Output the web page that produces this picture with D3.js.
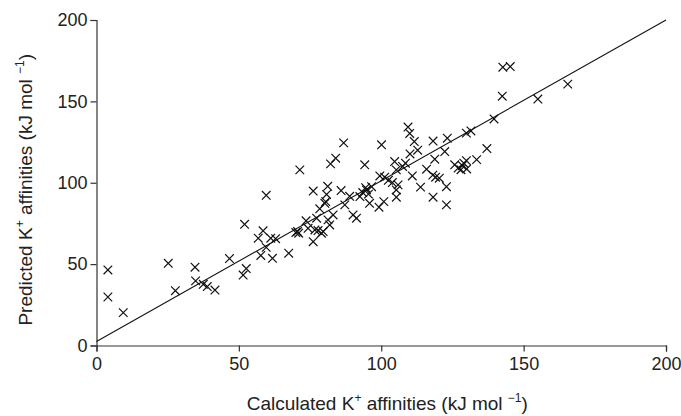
<!DOCTYPE html>
<html>
<head>
<meta charset="utf-8">
<script src="https://cdn.jsdelivr.net/npm/d3@7"></script>
<style>
  body { margin: 0; background: #fff; }
  svg text { font-family: "Liberation Sans", Arial, sans-serif; fill: #222; }
</style>
</head>
<body>
<svg id="chart"></svg>
<script>
// calculated vs predicted K+ affinities
const calculated = [
  4, 4, 9.4, 25.2, 27.7, 34.6, 34.8, 37.5, 38.9, 41.6, 46.7, 51.5, 52.6, 52,
  56.8, 58.5, 57.7, 59.6, 59.6, 61.2, 62.9, 61.8, 67.5,
  70, 70.6, 71, 71.4, 73.6, 74.3, 76.7, 76.1, 77.8, 79.6, 76.1, 77.3, 78.4, 80.2, 80.5, 80.8, 81.2, 81.3, 81.9, 79, 82.2, 84, 86.8, 83.1,
  85.9, 87.2, 88.9, 90.1, 91.3, 92.5, 93.5, 94.5, 94.8, 95.5, 96.6, 95.9, 94.2, 99.2, 100.9, 99.5, 101.2, 100.1, 103.9, 105.9, 105.3, 105.3, 104.7, 105.3, 102.5,
  109.4, 110, 111.6, 112.8, 110.1, 110.9, 113.8, 115.9, 118.1, 118.2, 118.2, 118.8, 119.1, 120.4, 122.3, 122.9, 122.9, 123.2, 107.5, 108.5,
  125.8, 127, 128, 128.5, 129, 130, 129.9, 129.9, 131.5, 133.5, 137.1, 139.6,
  142.5, 142.7, 145.3, 155, 165.5
];
const predicted = [
  46.4, 29.8, 20.2, 50.5, 33.7, 48.1, 39.7, 37.6, 36.2, 34.1, 53.4, 43.3, 47.3, 74.5,
  65.9, 70.5, 55.3, 60.3, 92.3, 65.9, 65.6, 53.6, 56.7,
  69.4, 70, 69, 107.9, 76.6, 72, 71, 63.8, 70.6, 70, 94.9, 78.2, 84, 87.4, 88.4, 92.8, 97.8, 77.2, 74.1, 69, 111.6, 115.1, 124.5, 80.2,
  95.2, 86.4, 91.7, 80.2, 78.2, 91.5, 94, 97, 95.6, 93, 97.6, 87.4, 111, 85, 88.4, 104.2, 103.4, 123.3, 100.1, 98.7, 95.6, 91.1, 113, 107.9, 101.5,
  134.2, 130.3, 125.3, 120, 117.7, 104.2, 97.3, 108.3, 104.7, 91.1, 125.6, 114.5, 103.4, 102.8, 119.2, 97.6, 86.4, 127.4, 110, 112,
  111, 109, 108, 110.5, 112, 108.5, 113.6, 130.5, 131.8, 114.2, 121, 139.2,
  153.2, 171, 171.4, 151.4, 160.6
];
const fitX = [0, 200];
const fitY = [2.5, 200];
const xTicks = [0, 50, 100, 150, 200];
const yTicks = [0, 50, 100, 150, 200];

const points = calculated.map((c, i) => ({x: c, y: predicted[i]}));
const fit = fitX.map((x, i) => ({x: x, y: fitY[i]}));

const W = 681, H = 416;
const margin = {top: 20, right: 15, bottom: 70.5, left: 96.5};
const width = W - margin.left - margin.right;
const height = H - margin.top - margin.bottom;

const svg = d3.select('#chart').attr('width', W).attr('height', H);
const chart = svg.append('g')
    .attr('transform', `translate(${margin.left},${margin.top})`);

const xScale = d3.scaleLinear().domain([0, 200]).range([0, width]);
const yScale = d3.scaleLinear().domain([0, 200]).range([height, 0]);

const xAxis = d3.axisBottom(xScale).tickValues(xTicks).tickSize(6).tickPadding(6);
const yAxis = d3.axisLeft(yScale).tickValues(yTicks).tickSize(6).tickPadding(3);

const xAxisG = chart.append('g')
    .attr('transform', `translate(0,${height})`)
    .call(xAxis);
const yAxisG = chart.append('g').call(yAxis);

[xAxisG, yAxisG].forEach(g => {
  g.selectAll('path, line').attr('stroke', '#333').attr('stroke-width', 1.2);
  g.selectAll('text').attr('font-size', 18).attr('fill', '#222')
    .attr('font-family', '"Liberation Sans", Arial, sans-serif');
});

// fitted line
const line = d3.line().x(d => xScale(d.x)).y(d => yScale(d.y));
chart.append('path')
    .datum(fit)
    .attr('d', line)
    .attr('fill', 'none')
    .attr('stroke', '#111')
    .attr('stroke-width', 1.1);

// cross markers
const s = 4.3;
chart.selectAll('.pt')
    .data(points)
    .join('path')
    .attr('class', 'pt')
    .attr('d', d => {
      const cx = xScale(d.x), cy = yScale(d.y);
      return `M${cx - s},${cy - s}L${cx + s},${cy + s}M${cx - s},${cy + s}L${cx + s},${cy - s}`;
    })
    .attr('stroke', '#111')
    .attr('stroke-width', 1.2)
    .attr('fill', 'none');

// axis titles
function title(sel, label) {
  sel.append('tspan').text(label + ' K');
  sel.append('tspan').text('+').attr('font-size', 12).attr('dy', -8);
  sel.append('tspan').text(' affinities (kJ mol ').attr('dy', 8);
  sel.append('tspan').text('\u22121').attr('font-size', 12).attr('dy', -8);
  sel.append('tspan').text(')').attr('dy', 8);
}

const xt = svg.append('text')
    .attr('x', margin.left + width / 2 + 6)
    .attr('y', 410)
    .attr('text-anchor', 'middle')
    .attr('font-size', 19);
title(xt, 'Calculated');

const yt = svg.append('text')
    .attr('transform', `translate(32,${margin.top + height / 2 + 7}) rotate(-90)`)
    .attr('text-anchor', 'middle')
    .attr('font-size', 19);
title(yt, 'Predicted');
</script>
</body>
</html>
